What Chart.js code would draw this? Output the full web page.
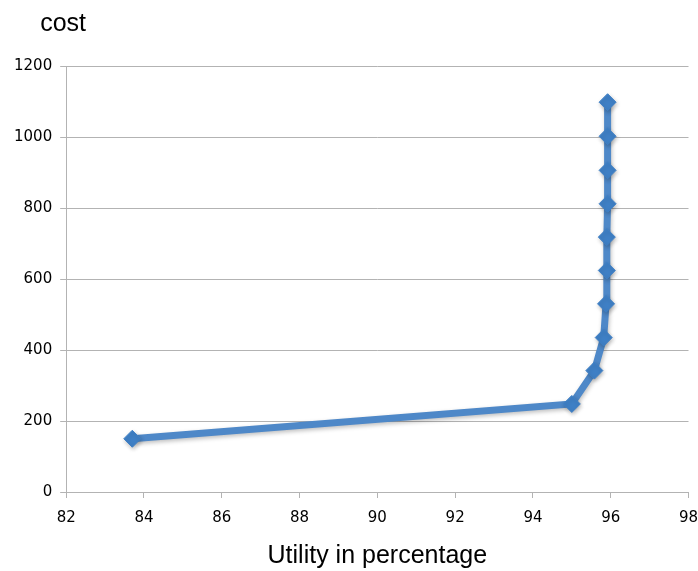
<!DOCTYPE html>
<html>
<head>
<meta charset="utf-8">
<script src="https://cdn.jsdelivr.net/npm/chart.js@4"></script>
<style>
    html, body { margin: 0; padding: 0; background: #fff; }
    #wrap { width: 698px; height: 571px; }
</style>
</head>
<body>
<div id="wrap"><canvas id="costChart" width="698" height="571"></canvas></div>
<script>
// values
const utility = [83.7, 95.0, 95.58, 95.82, 95.88, 95.9, 95.9, 95.92, 95.92, 95.92, 95.92];
const cost = [150, 248, 342, 435, 530, 624, 718, 812, 906, 1002, 1098];
const xTicks = [82, 84, 86, 88, 90, 92, 94, 96, 98];
const yTicks = [0, 200, 400, 600, 800, 1000, 1200];

const colors = {
    line: '#4e88c8',
    point: '#3f80c6',
    grid: '#b3b3b3',
    text: '#000000'
};

const points = utility.map((u, i) => ({ x: u, y: cost[i] }));

// "cost" label sits above the y axis, like the spreadsheet chart
const yLabelPlugin = {
    id: 'yLabel',
    afterDraw(chart) {
        const ctx = chart.ctx;
        ctx.save();
        ctx.font = '25px "Liberation Sans", Arial, sans-serif';
        ctx.fillStyle = colors.text;
        ctx.textBaseline = 'middle';
        ctx.fillText('cost', chart.chartArea.left - 26, 24);
        ctx.restore();
    }
};

// soft shadow under the line and markers
const shadowPlugin = {
    id: 'shadow',
    beforeDatasetsDraw(chart) {
        const ctx = chart.ctx;
        ctx.save();
        ctx.shadowColor = 'rgba(0,0,0,0.25)';
        ctx.shadowBlur = 4;
        ctx.shadowOffsetX = 1;
        ctx.shadowOffsetY = 2;
    },
    afterDatasetsDraw(chart) {
        chart.ctx.restore();
    }
};

const tickFont = { family: '"DejaVu Sans", sans-serif', size: 15 };

new Chart(document.getElementById('costChart').getContext('2d'), {
    type: 'scatter',
    data: {
        datasets: [{
            data: points,
            showLine: true,
            borderColor: colors.line,
            borderWidth: 7,
            pointStyle: 'rectRot',
            pointRadius: 8.5,
            pointBackgroundColor: colors.point,
            pointBorderColor: colors.point,
            pointBorderWidth: 1,
            tension: 0
        }]
    },
    options: {
        responsive: false,
        animation: false,
        layout: { padding: { top: 66, left: 6, right: 0, bottom: 0 } },
        plugins: {
            legend: { display: false },
            tooltip: { enabled: false }
        },
        scales: {
            x: {
                type: 'linear',
                min: xTicks[0],
                max: xTicks[xTicks.length - 1],
                afterBuildTicks: axis => { axis.ticks = xTicks.map(v => ({ value: v })); },
                // last label only needs half its width on the right
                afterFit: axis => { axis.paddingRight = 9; },
                ticks: { font: tickFont, color: colors.text, padding: 11, callback: v => String(v) },
                grid: { drawOnChartArea: false, drawTicks: true, tickLength: 6, color: colors.grid },
                border: { display: true, color: colors.grid, width: 1 },
                title: {
                    display: true,
                    text: 'Utility in percentage',
                    font: { family: '"Liberation Sans", Arial, sans-serif', size: 25 },
                    color: colors.text,
                    padding: { top: 3, bottom: 0 }
                }
            },
            y: {
                type: 'linear',
                min: yTicks[0],
                max: yTicks[yTicks.length - 1],
                afterBuildTicks: axis => { axis.ticks = yTicks.map(v => ({ value: v })); },
                ticks: { font: tickFont, color: colors.text, padding: 8, callback: v => String(v) },
                grid: { color: colors.grid, lineWidth: 1, tickLength: 6 },
                border: { display: true, color: colors.grid, width: 1 }
            }
        }
    },
    plugins: [yLabelPlugin, shadowPlugin]
});
</script>
</body>
</html>
